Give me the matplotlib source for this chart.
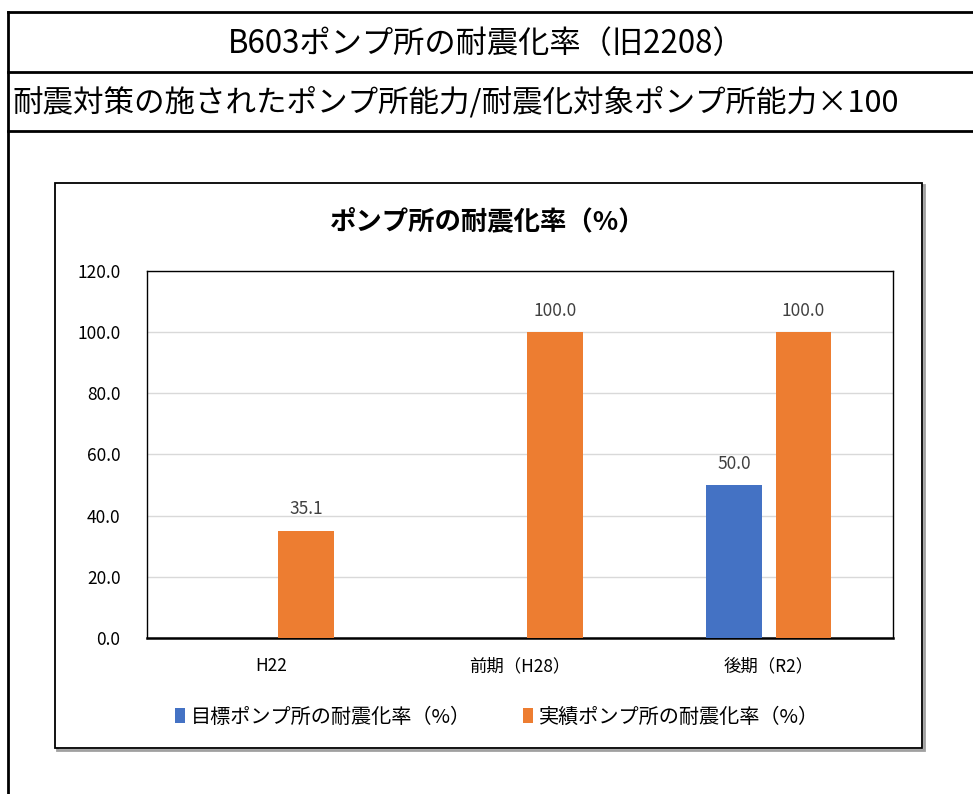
import matplotlib
matplotlib.use("Agg")
import matplotlib.pyplot as plt
from matplotlib.patches import Rectangle
from matplotlib.lines import Line2D
import numpy as np

plt.rcParams['font.family'] = ['Noto Sans CJK JP', 'DejaVu Sans']

categories = ['H22', '前期（H28）', '後期（R2）']
target = [None, None, 50.0]
actual = [35.1, 100.0, 100.0]
series_names = ['目標ポンプ所の耐震化率（%）', '実績ポンプ所の耐震化率（%）']
yticks = [0, 20, 40, 60, 80, 100, 120]

W, H = 973, 794
fig = plt.figure(figsize=(W / 100, H / 100), dpi=100)
fig.patch.set_facecolor('white')

def fx(px):
    return px / W

def fy(py):
    return 1 - py / H

# outer table frame
lw = 2.0
fig.add_artist(Line2D([fx(8), fx(8)], [fy(12), fy(794)], color='black', lw=lw))
for yy in [12, 72, 131]:
    fig.add_artist(Line2D([fx(8), 1.0], [fy(yy), fy(yy)], color='black', lw=lw))

fig.text(fx(486), fy(44), 'B603ポンプ所の耐震化率（旧2208）', ha='center', va='center',
         fontsize=22.5, color='black')
fig.text(fx(13), fy(103), '耐震対策の施されたポンプ所能力/耐震化対象ポンプ所能力×100',
         ha='left', va='center', fontsize=22, color='black')

# chart box with slight shadow
fig.add_artist(Rectangle((fx(57), fy(750)), fx(922 - 55), (748 - 183) / H,
                         transform=fig.transFigure, facecolor='none',
                         edgecolor='#a0a0a0', lw=2, zorder=-2))
fig.add_artist(Rectangle((fx(55), fy(748)), fx(922 - 55), (748 - 183) / H,
                         transform=fig.transFigure, facecolor='white',
                         edgecolor='black', lw=1.3, zorder=-1))

fig.text(fx(488), fy(222), 'ポンプ所の耐震化率（%）', ha='center', va='center',
         fontsize=19, fontweight='bold', color='black')

ax = fig.add_axes([fx(147), fy(638), fx(893 - 147), (638 - 271) / H])
ax.set_facecolor('white')
x = np.arange(len(categories))
bw = 0.225
off = 0.14
blue = '#4472C4'
orange = '#ED7D31'
tvals = [np.nan if v is None else v for v in target]
b1 = ax.bar(x - off, tvals, bw, color=blue, zorder=3, label=series_names[0])
b2 = ax.bar(x + off, actual, bw, color=orange, zorder=3, label=series_names[1])
for xi, v in zip(x, target):
    if v is not None:
        ax.text(xi - off, v + 4, f'{v:.1f}', ha='center', va='bottom', fontsize=12.5, color='#404040')
for xi, v in zip(x, actual):
    ax.text(xi + off, v + 4, f'{v:.1f}', ha='center', va='bottom', fontsize=12.5, color='#404040')

ax.set_xlim(-0.5, len(categories) - 0.5)
ax.set_ylim(0, 120)
ax.set_yticks(yticks)
ax.set_yticklabels([f'{t:.1f}' for t in yticks], fontsize=12.5, color='black')
ax.set_xticks(x)
ax.set_xticklabels(categories, fontsize=12.5, color='black')
ax.tick_params(axis='y', length=0, pad=19)
ax.tick_params(axis='x', length=0, pad=14)
ax.grid(axis='y', color='#d9d9d9', lw=1, zorder=0)
for s in ['top', 'right', 'left']:
    ax.spines[s].set_color('black')
    ax.spines[s].set_linewidth(1.0)
ax.spines['bottom'].set_color('black')
ax.spines['bottom'].set_linewidth(1.8)

fig.legend(handles=[b1, b2], labels=series_names, loc='center', bbox_to_anchor=(fx(497), fy(717)),
           ncol=2, frameon=False, fontsize=14.5, handlelength=0.5, handleheight=0.8,
           handletextpad=0.3, columnspacing=2.6)

fig.savefig('out.png', dpi=100, facecolor='white')
